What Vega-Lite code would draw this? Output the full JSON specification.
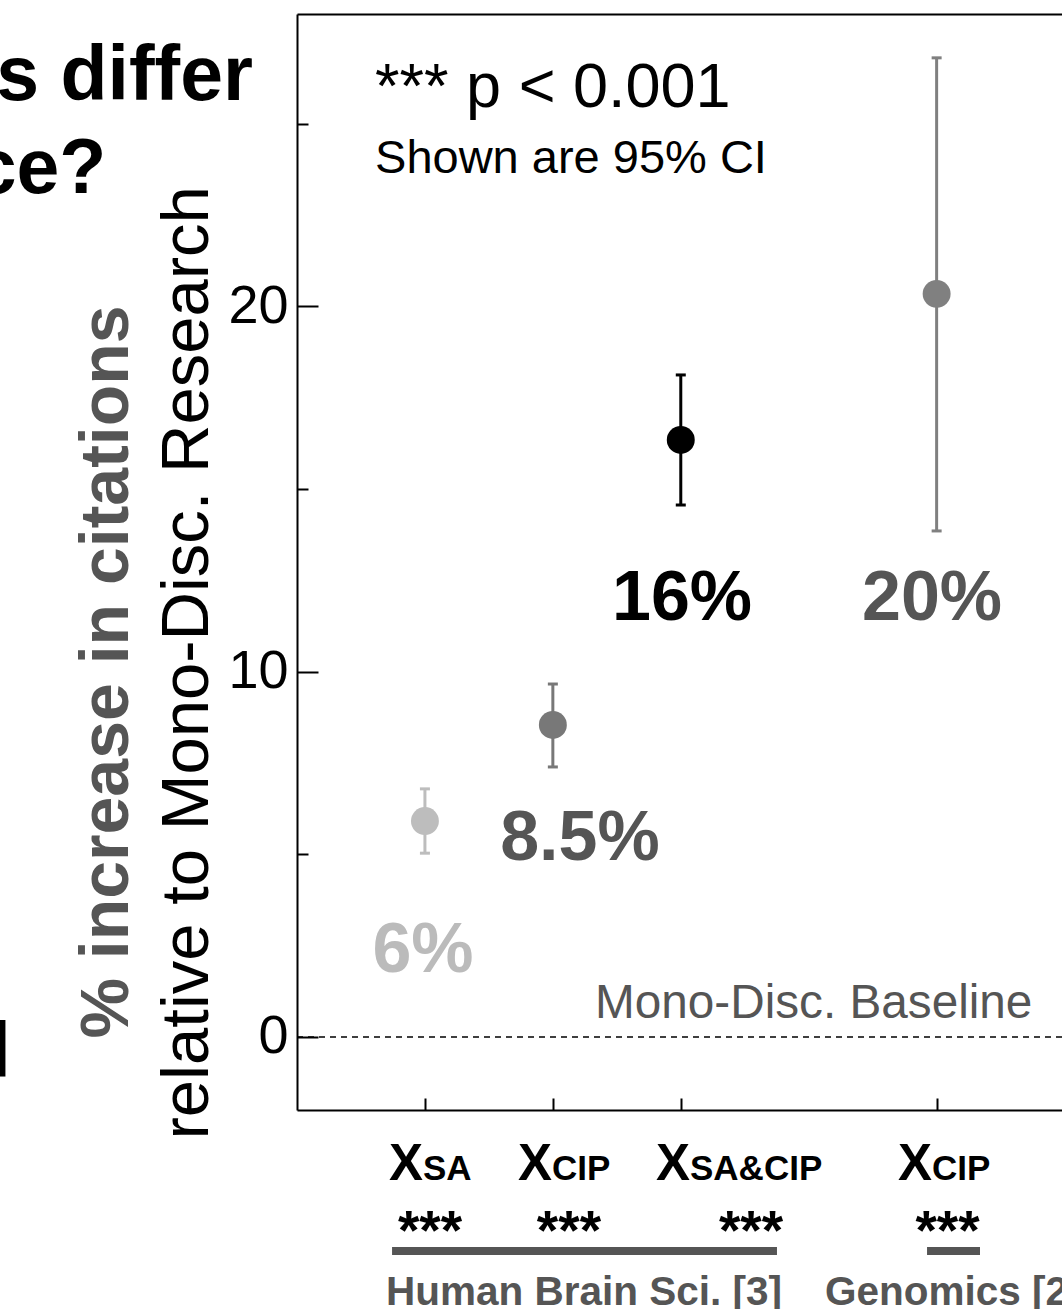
{
  "$schema": "https://vega.github.io/schema/vega-lite/v6.json",
  "width": 765,
  "height": 1096,
  "autosize": {"type": "none"},
  "padding": {"left": 297, "top": 14, "right": 0, "bottom": 199},
  "config": {"font": "Liberation Sans", "view": {"stroke": null}},
  "datasets": {
    "pts": [
      {"x": 1, "v": 5.91, "lo": 5.03, "hi": 6.79, "g": "SA"},
      {"x": 2, "v": 8.54, "lo": 7.39, "hi": 9.66, "g": "CIP"},
      {"x": 3, "v": 16.34, "lo": 14.56, "hi": 18.12, "g": "SACIP"},
      {"x": 5, "v": 20.34, "lo": 13.85, "hi": 26.8, "g": "GCIP"}
    ],
    "bars": [
      {"x": 0.743, "x2": 3.752, "y": -5.86},
      {"x": 4.925, "x2": 5.339, "y": -5.86}
    ],
    "zero": [{"y": 0}],
    "txt": [
      {"k": "big", "t": "s differ", "x": -0.344, "y": 25.65},
      {"k": "big", "t": "ce?", "x": -1.49, "y": 23.1},
      {"k": "big", "t": "l", "x": -2.236, "y": -1.1},
      {"k": "ytl1", "t": "% increase in citations", "x": -1.321, "y": 9.99},
      {"k": "ytl2", "t": "relative to Mono-Disc. Research", "x": -0.696, "y": 10.24},
      {"k": "pval", "t": "*** p < 0.001", "x": 0.61, "y": 25.45},
      {"k": "ci", "t": "Shown are 95% CI", "x": 0.61, "y": 23.65},
      {"k": "base", "t": "Mono-Disc. Baseline", "x": 2.33, "y": 0.52},
      {"k": "vlg", "t": "6%", "x": 0.985, "y": 1.78},
      {"k": "vdk", "t": "8.5%", "x": 2.212, "y": 4.84},
      {"k": "vbk", "t": "16%", "x": 3.01, "y": 11.41},
      {"k": "vdk", "t": "20%", "x": 4.964, "y": 11.41},
      {"k": "X", "t": "X", "x": 0.985, "y": -3.92},
      {"k": "X", "t": "X", "x": 1.993, "y": -3.92},
      {"k": "X", "t": "X", "x": 3.072, "y": -3.92},
      {"k": "X", "t": "X", "x": 4.964, "y": -3.92},
      {"k": "sub", "t": "SA", "x": 0.985, "y": -3.92},
      {"k": "sub", "t": "CIP", "x": 1.993, "y": -3.92},
      {"k": "sub", "t": "SA&CIP", "x": 3.072, "y": -3.92},
      {"k": "sub", "t": "CIP", "x": 4.964, "y": -3.92},
      {"k": "star", "t": "***", "x": 1.04, "y": -5.8},
      {"k": "star", "t": "***", "x": 2.126, "y": -5.8},
      {"k": "star", "t": "***", "x": 3.549, "y": -5.8},
      {"k": "star", "t": "***", "x": 5.085, "y": -5.8},
      {"k": "grpc", "t": "Human Brain Sci. [3]", "x": 2.243, "y": -7.34},
      {"k": "grpl", "t": "Genomics [2]", "x": 4.127, "y": -7.34}
    ]
  },
  "resolve": {"axis": {"x": "independent", "y": "independent"}},
  "layer": [
    {
      "data": {"name": "zero"},
      "mark": {"type": "rule", "strokeDash": [6, 5], "strokeWidth": 1.5, "color": "black"},
      "encoding": {
        "y": {"field": "y", "type": "quantitative", "scale": {"domain": [-2, 28], "nice": false, "zero": false}, "axis": null}
      }
    },
    {
      "data": {"name": "pts"},
      "mark": {"type": "rule", "strokeWidth": 3},
      "encoding": {
        "x": {"field": "x", "type": "quantitative", "axis": null},
        "y": {"field": "lo", "type": "quantitative", "axis": null},
        "y2": {"field": "hi"},
        "color": {"field": "g", "type": "nominal", "scale": {"domain": ["SA", "CIP", "SACIP", "GCIP"], "range": ["#bdbdbd", "#787878", "#000000", "#808080"]}, "legend": null}
      }
    },
    {
      "data": {"name": "pts"},
      "mark": {"type": "tick", "orient": "horizontal", "size": 10, "thickness": 3, "opacity": 1},
      "encoding": {
        "x": {"field": "x", "type": "quantitative", "axis": null},
        "y": {"field": "lo", "type": "quantitative", "axis": null},
        "color": {"field": "g", "type": "nominal", "legend": null}
      }
    },
    {
      "data": {"name": "pts"},
      "mark": {"type": "tick", "orient": "horizontal", "size": 10, "thickness": 3, "opacity": 1},
      "encoding": {
        "x": {"field": "x", "type": "quantitative", "axis": null},
        "y": {"field": "hi", "type": "quantitative", "axis": null},
        "color": {"field": "g", "type": "nominal", "legend": null}
      }
    },
    {
      "data": {"name": "pts"},
      "mark": {"type": "point", "shape": "circle", "filled": true, "opacity": 1, "size": 780},
      "encoding": {
        "x": {"field": "x", "type": "quantitative", "scale": {"domain": [0, 5.98], "nice": false, "zero": false},
          "axis": {"orient": "bottom", "values": [1, 2, 3, 5], "labels": false, "tickSize": -12, "tickWidth": 2, "tickColor": "black", "domainColor": "black", "domainWidth": 2, "grid": false, "title": null}},
        "y": {"field": "v", "type": "quantitative",
          "axis": {"orient": "left", "values": [0, 5, 10, 15, 20, 25], "labelExpr": "datum.value % 10 === 0 ? datum.label : ''", "labelOverlap": false, "tickSize": {"condition": {"test": "datum.value % 10 === 0", "value": -21}, "value": -11}, "tickWidth": 2, "tickColor": "black", "domainColor": "black", "domainWidth": 2, "labelFontSize": 54, "labelFont": "Liberation Sans", "labelColor": "black", "labelPadding": 30, "grid": false, "title": null}},
        "color": {"field": "g", "type": "nominal", "legend": null}
      }
    },
    {
      "data": {"name": "bars"},
      "mark": {"type": "rule", "strokeWidth": 8, "color": "#555555"},
      "encoding": {
        "x": {"field": "x", "type": "quantitative", "axis": null},
        "x2": {"field": "x2"},
        "y": {"field": "y", "type": "quantitative", "axis": null}
      }
    },
    {
      "data": {"name": "txt"},
      "transform": [{"filter": "datum.k === 'big'"}],
      "mark": {"type": "text", "align": "right", "baseline": "alphabetic", "fontSize": 77, "fontWeight": "bold", "color": "black"},
      "encoding": {"x": {"field": "x", "type": "quantitative", "axis": null}, "y": {"field": "y", "type": "quantitative", "axis": null}, "text": {"field": "t"}}
    },
    {
      "data": {"name": "txt"},
      "transform": [{"filter": "datum.k === 'ytl1'"}],
      "mark": {"type": "text", "align": "center", "baseline": "alphabetic", "angle": 270, "fontSize": 68, "fontWeight": "bold", "color": "#555555"},
      "encoding": {"x": {"field": "x", "type": "quantitative", "axis": null}, "y": {"field": "y", "type": "quantitative", "axis": null}, "text": {"field": "t"}}
    },
    {
      "data": {"name": "txt"},
      "transform": [{"filter": "datum.k === 'ytl2'"}],
      "mark": {"type": "text", "align": "center", "baseline": "alphabetic", "angle": 270, "fontSize": 67, "color": "black"},
      "encoding": {"x": {"field": "x", "type": "quantitative", "axis": null}, "y": {"field": "y", "type": "quantitative", "axis": null}, "text": {"field": "t"}}
    },
    {
      "data": {"name": "txt"},
      "transform": [{"filter": "datum.k === 'pval'"}],
      "mark": {"type": "text", "align": "left", "baseline": "alphabetic", "fontSize": 63, "color": "black"},
      "encoding": {
        "x": {"field": "x", "type": "quantitative", "axis": {"orient": "top", "ticks": false, "labels": false, "domain": true, "domainColor": "black", "domainWidth": 2, "grid": false, "title": null}},
        "y": {"field": "y", "type": "quantitative", "axis": null}, "text": {"field": "t"}}
    },
    {
      "data": {"name": "txt"},
      "transform": [{"filter": "datum.k === 'ci'"}],
      "mark": {"type": "text", "align": "left", "baseline": "alphabetic", "fontSize": 47, "color": "black"},
      "encoding": {"x": {"field": "x", "type": "quantitative", "axis": null}, "y": {"field": "y", "type": "quantitative", "axis": null}, "text": {"field": "t"}}
    },
    {
      "data": {"name": "txt"},
      "transform": [{"filter": "datum.k === 'base'"}],
      "mark": {"type": "text", "align": "left", "baseline": "alphabetic", "fontSize": 47.7, "color": "#555555"},
      "encoding": {"x": {"field": "x", "type": "quantitative", "axis": null}, "y": {"field": "y", "type": "quantitative", "axis": null}, "text": {"field": "t"}}
    },
    {
      "data": {"name": "txt"},
      "transform": [{"filter": "datum.k === 'vlg'"}],
      "mark": {"type": "text", "align": "center", "baseline": "alphabetic", "fontSize": 70, "fontWeight": "bold", "color": "#bbbbbb"},
      "encoding": {"x": {"field": "x", "type": "quantitative", "axis": null}, "y": {"field": "y", "type": "quantitative", "axis": null}, "text": {"field": "t"}}
    },
    {
      "data": {"name": "txt"},
      "transform": [{"filter": "datum.k === 'vdk'"}],
      "mark": {"type": "text", "align": "center", "baseline": "alphabetic", "fontSize": 70, "fontWeight": "bold", "color": "#555555"},
      "encoding": {"x": {"field": "x", "type": "quantitative", "axis": null}, "y": {"field": "y", "type": "quantitative", "axis": null}, "text": {"field": "t"}}
    },
    {
      "data": {"name": "txt"},
      "transform": [{"filter": "datum.k === 'vbk'"}],
      "mark": {"type": "text", "align": "center", "baseline": "alphabetic", "fontSize": 70, "fontWeight": "bold", "color": "black"},
      "encoding": {"x": {"field": "x", "type": "quantitative", "axis": null}, "y": {"field": "y", "type": "quantitative", "axis": null}, "text": {"field": "t"}}
    },
    {
      "data": {"name": "txt"},
      "transform": [{"filter": "datum.k === 'X'"}],
      "mark": {"type": "text", "align": "right", "baseline": "alphabetic", "fontSize": 51, "fontWeight": "bold", "color": "black"},
      "encoding": {"x": {"field": "x", "type": "quantitative", "axis": null}, "y": {"field": "y", "type": "quantitative", "axis": null}, "text": {"field": "t"}}
    },
    {
      "data": {"name": "txt"},
      "transform": [{"filter": "datum.k === 'sub'"}],
      "mark": {"type": "text", "align": "left", "baseline": "alphabetic", "fontSize": 35, "fontWeight": "bold", "color": "black"},
      "encoding": {"x": {"field": "x", "type": "quantitative", "axis": null}, "y": {"field": "y", "type": "quantitative", "axis": null}, "text": {"field": "t"}}
    },
    {
      "data": {"name": "txt"},
      "transform": [{"filter": "datum.k === 'star'"}],
      "mark": {"type": "text", "align": "center", "baseline": "alphabetic", "fontSize": 55, "fontWeight": "bold", "color": "black"},
      "encoding": {"x": {"field": "x", "type": "quantitative", "axis": null}, "y": {"field": "y", "type": "quantitative", "axis": null}, "text": {"field": "t"}}
    },
    {
      "data": {"name": "txt"},
      "transform": [{"filter": "datum.k === 'grpc'"}],
      "mark": {"type": "text", "align": "center", "baseline": "alphabetic", "fontSize": 40.5, "fontWeight": "bold", "color": "#555555"},
      "encoding": {"x": {"field": "x", "type": "quantitative", "axis": null}, "y": {"field": "y", "type": "quantitative", "axis": null}, "text": {"field": "t"}}
    },
    {
      "data": {"name": "txt"},
      "transform": [{"filter": "datum.k === 'grpl'"}],
      "mark": {"type": "text", "align": "left", "baseline": "alphabetic", "fontSize": 40.5, "fontWeight": "bold", "color": "#555555"},
      "encoding": {"x": {"field": "x", "type": "quantitative", "axis": null}, "y": {"field": "y", "type": "quantitative", "axis": null}, "text": {"field": "t"}}
    }
  ]
}
